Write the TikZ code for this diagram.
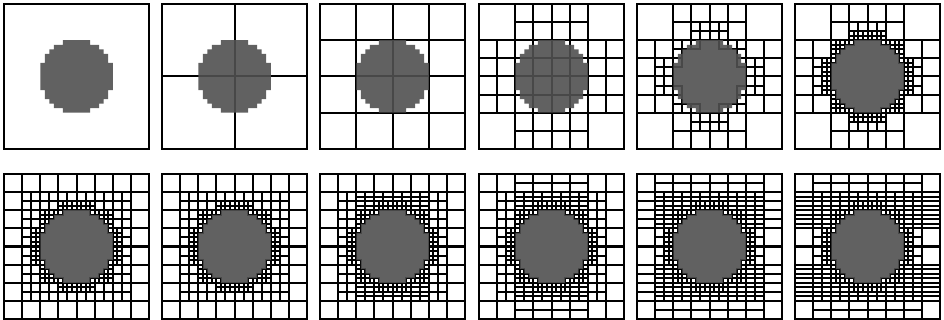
\documentclass[tikz,border=0pt]{standalone}
\definecolor{discdark}{RGB}{80,80,80}
% quadtree bookkeeping
\newcount\qj \newcount\qa \newcount\qb \newcount\qc \newcount\qd \newcount\qh
\newcount\qmaxlev \newcount\qminlev \newcount\qn
\newif\ifqin \newif\ifqout \newif\ifqsplit \newif\ifqhide
% half width of the pixel disc in row #1
\def\qhw#1{\ifcase#1 0\or0\or0\or0\or0\or0\or0\or0\or3\or5\or6\or7\or7\or8\or8\or8\or8\or8\or8\or7\or7\or6\or5\or3\else0\fi}
% does the cell (grown by #4) hold disc and background pixels?
\def\qtest#1#2#3#4{%
  \qa=\numexpr#1-#4\relax \qb=\numexpr#1+#3-1+#4\relax
  \qc=\numexpr#2-#4\relax \qd=\numexpr#2+#3-1+#4\relax
  \qinfalse\qoutfalse
  \qj=\qc
  \loop
    \qh=\qhw\qj\relax
    \ifnum\qh=0 \qouttrue
    \else
      \ifnum\qa<\numexpr16-\qh\relax \qouttrue\fi
      \ifnum\qb>\numexpr15+\qh\relax \qouttrue\fi
      \ifnum\qa>\numexpr15+\qh\relax\else
        \ifnum\qb<\numexpr16-\qh\relax\else\qintrue\fi
      \fi
    \fi
  \ifnum\qj<\qd \advance\qj by 1 \repeat}
\def\margone#1{1}
\def\margtwo#1{\ifnum#1>2 #1\else 1\fi}
% horizontal strips of a leaf: col0/row0/col1/row1/size/strips
\def\qstrips#1#2#3{%
  \global\qn=1
  \foreach \ca/\ra/\cb/\rb/\sz/\nn in \qaniso {%
    \ifnum#3=\sz
      \ifnum#1<\ca\else\ifnum#1<\cb
        \ifnum#2<\ra\else\ifnum#2<\rb \global\qn=\nn\fi\fi
      \fi\fi
    \fi}}
\def\qcell#1#2#3#4{% col, row, size, level
  \qsplitfalse
  \ifnum#4<\qmaxlev
    \ifnum#4<\qminlev \qsplittrue
    \else
      \qtest{#1}{#2}{#3}{\qmarg{#3}}%
      \ifqin\ifqout\qsplittrue\fi\fi
    \fi
  \fi
  \ifqsplit
    \edef\qnext{%
      \noexpand\qcell{#1}{#2}{\the\numexpr#3/2\relax}{\the\numexpr#4+1\relax}%
      \noexpand\qcell{\the\numexpr#1+#3/2\relax}{#2}{\the\numexpr#3/2\relax}{\the\numexpr#4+1\relax}%
      \noexpand\qcell{#1}{\the\numexpr#2+#3/2\relax}{\the\numexpr#3/2\relax}{\the\numexpr#4+1\relax}%
      \noexpand\qcell{\the\numexpr#1+#3/2\relax}{\the\numexpr#2+#3/2\relax}{\the\numexpr#3/2\relax}{\the\numexpr#4+1\relax}}%
    \expandafter\qnext
  \else
    \qouttrue
    \ifqhide \qtest{#1}{#2}{#3}{0}\fi
    \ifqout
      \draw[cellline] (#1,#2) rectangle ++(#3,#3);
      \qstrips{#1}{#2}{#3}%
      \ifnum\qn>1
        \foreach \k in {2,...,\qn}
          \draw[cellline] (#1,{#2+(\k-1)*#3/\qn}) -- ++(#3,0);
      \fi
    \fi
  \fi}
\def\discpath{(13,8) -- (19,8) -- (19,9) -- (21,9) -- (21,10) -- (22,10) -- (22,11)
  -- (23,11) -- (23,13) -- (24,13) -- (24,19) -- (23,19) -- (23,21) -- (22,21)
  -- (22,22) -- (21,22) -- (21,23) -- (19,23) -- (19,24) -- (13,24) -- (13,23)
  -- (11,23) -- (11,22) -- (10,22) -- (10,21) -- (9,21) -- (9,19) -- (8,19)
  -- (8,13) -- (9,13) -- (9,11) -- (10,11) -- (10,10) -- (11,10) -- (11,9)
  -- (13,9) -- cycle}
% panel: x, y, max level, min level, margin, hide inner cells, strips
\newcommand\qpanel[7]{%
  \begin{scope}[shift={(#1pt,-#2pt)}, x=4.53125pt, y=-4.53125pt]
    \qmaxlev=#3 \qminlev=#4
    \let\qmarg=#5
    \csname qhide#6\endcsname
    \def\qaniso{#7}%
    \qcell{0}{0}{32}{0}
    \fill[disc] \discpath;
  \end{scope}}
\begin{document}
\begin{tikzpicture}[
    cellline/.style={draw=black, line width=2pt},
    disc/.style={fill=discdark, fill opacity=0.9}
]
  \useasboundingbox (0,0) rectangle (944pt,-320pt);
  % first row: refinement level by level
  \qpanel{4}{4}{0}{0}{\margone}{false}{0/0/0/0/0/1}
  \qpanel{162}{4}{1}{0}{\margone}{false}{0/0/0/0/0/1}
  \qpanel{320}{4}{2}{0}{\margone}{false}{0/0/0/0/0/1}
  \qpanel{479}{4}{3}{0}{\margone}{false}{0/0/0/0/0/1}
  \qpanel{637}{4}{4}{0}{\margone}{true}{0/0/0/0/0/1}
  \qpanel{795}{4}{5}{0}{\margone}{true}{0/0/0/0/0/1}
  % second row: anisotropic steps
  \qpanel{4}{174}{5}{3}{\margtwo}{true}{0/0/0/0/0/1}
  \qpanel{162}{174}{5}{3}{\margtwo}{true}{0/0/0/0/0/1}
  \qpanel{320}{174}{5}{3}{\margtwo}{true}{8/4/24/8/2/2, 8/24/24/28/2/2}
  \qpanel{479}{174}{5}{3}{\margtwo}{true}{8/4/24/8/2/2, 8/24/24/28/2/2, 8/0/24/4/4/2, 8/28/24/32/4/2}
  \qpanel{637}{174}{5}{3}{\margtwo}{true}{4/0/28/4/4/2, 4/28/28/32/4/2, 0/4/32/12/4/2,
    0/20/32/28/4/2, 0/4/32/12/2/2, 0/20/32/28/2/2}
  \qpanel{795}{174}{5}{3}{\margtwo}{true}{4/0/28/4/4/2, 4/28/28/32/4/2, 0/4/32/12/4/4,
    0/20/32/28/4/4, 0/4/32/12/2/2, 0/20/32/28/2/2}
\end{tikzpicture}
\end{document}
